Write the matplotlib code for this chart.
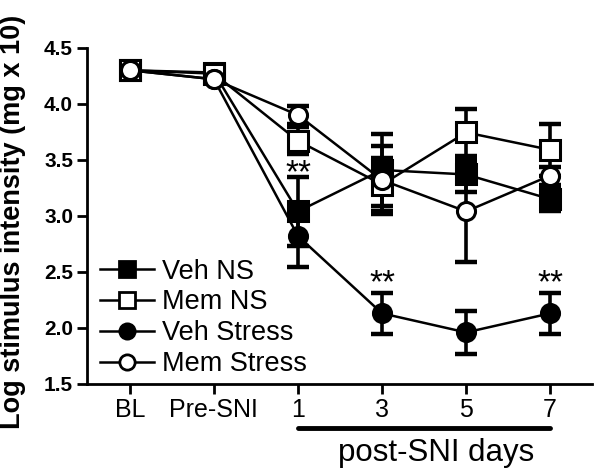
import matplotlib
matplotlib.use("Agg")
import matplotlib.pyplot as plt
import numpy as np

plt.rcParams['font.family'] = ['Liberation Sans', 'DejaVu Sans']

categories = ["BL", "Pre-SNI", "1", "3", "5", "7"]
veh_ns = [4.30, 4.28, 3.04, 3.41, 3.37, 3.15]
veh_ns_err = [0.02, 0.02, 0.31, 0.32, 0.16, 0.11]
mem_ns = [4.30, 4.27, 3.67, 3.28, 3.745, 3.59]
mem_ns_err = [0.02, 0.02, 0.12, 0.24, 0.21, 0.23]
veh_stress = [4.30, 4.22, 2.82, 2.13, 1.96, 2.13]
veh_stress_err = [0.02, 0.02, 0.28, 0.18, 0.19, 0.18]
mem_stress = [4.30, 4.22, 3.90, 3.32, 3.04, 3.36]
mem_stress_err = [0.02, 0.02, 0.08, 0.30, 0.45, 0.08]
labels = ["Veh NS", "Mem NS", "Veh Stress", "Mem Stress"]
stars = [(2, 3.38), (3, 2.39), (5, 2.39)]

fig = plt.figure(figsize=(6.0, 4.74), dpi=100)
ax = fig.add_axes([0.145, 0.190, 0.842, 0.709])
x = np.arange(len(categories))

series = [
    (veh_ns, veh_ns_err, 's', 'black', 14),
    (mem_ns, mem_ns_err, 's', 'white', 14),
    (veh_stress, veh_stress_err, 'o', 'black', 13),
    (mem_stress, mem_stress_err, 'o', 'white', 13),
]
handles = []
for (y, e, m, fc, ms), lab in zip(series, labels):
    ax.errorbar(x, y, yerr=e, fmt='none', ecolor='black', elinewidth=2.6,
                capsize=8, capthick=3.2, zorder=2)
    ax.plot(x, y, color='black', lw=1.8, marker=m, markersize=ms,
            markerfacecolor=fc, markeredgecolor='black',
            markeredgewidth=2.2, zorder=3)
    h, = ax.plot([], [], color='black', lw=1.8, marker=m, markersize=11,
                 markerfacecolor=fc, markeredgecolor='black',
                 markeredgewidth=2.0, label=lab)
    handles.append(h)

for sx, sy in stars:
    ax.text(sx, sy, "**", ha='center', va='center', fontsize=24, zorder=4)

ax.set_xlim(-0.51, 5.5)
ax.set_ylim(1.5, 4.5)
ax.set_yticks([1.5, 2.0, 2.5, 3.0, 3.5, 4.0, 4.5])
ax.set_yticklabels(["1.5", "2.0", "2.5", "3.0", "3.5", "4.0", "4.5"],
                   fontweight='bold', fontsize=15)
ax.set_xticks(x)
ax.set_xticklabels(categories, fontsize=18)
ax.tick_params(axis='both', width=2, length=7, pad=3)
for s in ['top', 'right']:
    ax.spines[s].set_visible(False)
for s in ['left', 'bottom']:
    ax.spines[s].set_linewidth(2)
ax.set_ylabel("Log stimulus intensity (mg x 10)", fontweight='bold',
              fontsize=19.5)
ax.yaxis.set_label_coords(-0.120, 0.482)

leg = ax.legend(handles=handles, loc='lower left', bbox_to_anchor=(0.012, 0.0),
                frameon=False, fontsize=19.5, handlelength=2.0,
                handletextpad=0.3, labelspacing=0.18, borderaxespad=0.05,
                borderpad=0.2)

line_y = -0.13
ax.plot([2, 5], [line_y, line_y], transform=ax.get_xaxis_transform(),
        color='black', lw=3.5, clip_on=False, solid_capstyle='round')
ax.text(3.64, -0.205, "post-SNI days", transform=ax.get_xaxis_transform(),
        ha='center', va='center', fontsize=22.5)

fig.savefig("out.png", dpi=100)
